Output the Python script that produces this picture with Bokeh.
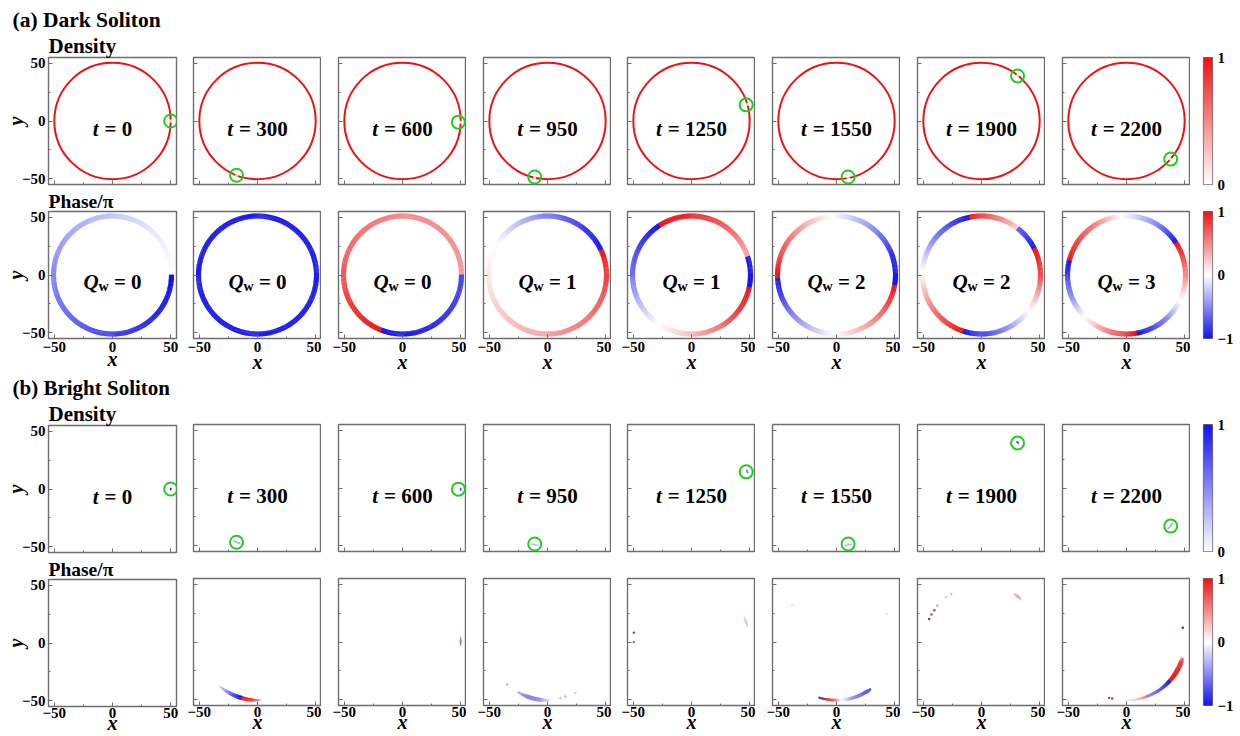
import numpy as np
from bokeh.plotting import figure
from bokeh.models import FixedTicker, Title, LinearColorMapper, Range1d
from bokeh.layouts import row, column
from bokeh.embed import file_html
from bokeh.resources import INLINE
from bokeh.core.properties import value

# ---------------- data ----------------
times = [0, 300, 600, 950, 1250, 1550, 1900, 2200]
winding_numbers = [0, 0, 0, 1, 1, 2, 2, 3]
soliton_x = [50, -18, 48, -11, 47, 10, 31, 38]
soliton_y = [0, -47, -1, -48.5, 14, -48.5, 39, -33]
ring_radius = 50

# bright soliton peak density and its angular half-extent (deg)
bright_peak_density = [0.95, 0.35, 0.8, 0.3, 0.6, 0.3, 0.8, 0.35]
bright_peak_halfwidth = [1.2, 4.0, 1.5, 4.0, 2.0, 4.0, 1.5, 4.0]

# dark soliton phase/pi along the ring: knots (angle in deg, phase); repeated angle = jump
dark_phase_angles = [
    [0, 45, 90, 180, 270, 330, 360],
    [0, 360],
    [0, 90, 180, 249, 249, 300, 360],
    [25, 50, 90, 150, 180, 225, 270, 315, 360, 385],
    [18, 45, 90, 123, 123, 180, 236, 270, 320, 348, 348, 378],
    [-10, 20, 50, 95, 135, 183, 183, 225, 268, 310, 350],
    [26.7, 52.5, 52.5, 101.6, 101.6, 140, 177, 210, 252, 252, 290, 323, 340, 360, 386.7],
    [33, 60, 95, 120, 166, 166, 200, 225, 250, 280, 280, 310, 334, 360, 393],
]
dark_phase_values = [
    [0.0, -0.1, -0.25, -0.5, -0.8, -0.95, -1.0],
    [-0.95, -0.95],
    [0.45, 0.5, 0.7, 1.0, -1.0, -0.9, -0.75],
    [-1.0, -0.85, -0.55, 0.0, 0.1, 0.25, 0.4, 0.6, 0.8, 1.0],
    [0.35, 0.6, 0.9, 1.0, -1.0, -0.6, 0.0, 0.3, 0.8, 1.0, -1.0, -0.95],
    [-1.0, -0.9, -0.5, 0.0, 0.5, 1.0, -1.0, -0.5, 0.0, 0.5, 1.0],
    [-1.0, -0.65, 0.2, 1.0, -1.0, -0.55, 0.0, 0.5, 1.0, -1.0, -0.55, 0.0, 0.35, 0.75, 1.0],
    [-1.0, -0.5, 0.0, 0.5, 1.0, -1.0, -0.5, 0.0, 0.5, 1.0, -1.0, -0.55, 0.0, 0.5, 1.0],
]

# bright soliton phase/pi: arcs (angle knots, phase, thickness) and isolated dots
bright_arc_angles = [
    [],
    [[229, 240, 250, 254, 254, 264, 273]],
    [[-4, 0, 5]],
    [[239, 250, 262, 273]],
    [[15, 20, 25]],
    [[252, 258, 258, 266, 275, 285, 300, 306]],
    [[47, 51.5, 56]],
    [[268, 280, 290, 292, 292, 305, 318, 318, 330, 340, 344]],
]
bright_arc_phases = [
    [],
    [[-0.2, -0.55, -0.9, -1.0, 0.95, 0.9, 0.4]],
    [[-0.45, -0.55, -0.45]],
    [[-0.35, -0.55, -0.5, -0.1]],
    [[0.25, 0.3, 0.25]],
    [[-1.0, -0.85, 1.0, 0.8, 0.0, -0.45, -0.7, -0.75]],
    [[0.3, 0.4, 0.3]],
    [[0.05, 0.25, 0.6, 0.8, -0.5, -0.7, -1.0, 1.0, 0.95, 0.8, 0.6]],
]
bright_arc_widths = [
    [],
    [[1.0, 3.0, 3.8, 3.8, 3.6, 2.8, 1.2]],
    [[0.8, 1.8, 0.8]],
    [[1.5, 3.5, 3.5, 1.2]],
    [[1.0, 2.0, 1.0]],
    [[1.5, 2.0, 2.0, 2.3, 2.5, 2.8, 3.2, 2.0]],
    [[1.5, 2.8, 1.5]],
    [[1.0, 1.8, 2.3, 2.4, 2.4, 2.8, 3.5, 3.5, 4.2, 4.0, 2.0]],
]
bright_dot_x = [[], [], [], [11.1, 15.4, 24, -34.6], [-49.5, -49.6], [-38, 43],
                [-45, -43, -40.5, -38, -30.5, -26], [-12.3, -15, 48.4]]
bright_dot_y = [[], [], [], [-48.6, -47.2, -44, -36.9], [8, 0], [31.8, 24],
                [20, 23.8, 27.6, 31.5, 38.7, 41.6], [-48.9, -48.6, 12.3]]
bright_dot_phase = [[], [], [], [0.3, 0.4, 0.3, -0.3], [-0.7, -0.6], [-0.15, -0.1],
                    [-0.8, 0.8, -0.7, -0.35, -0.2, -0.25], [0.9, -0.7, -0.9]]

# ---------------- style ----------------
FONT = "Liberation Serif"
RED = (236, 18, 18)
BLUE = (18, 18, 236)
WHITE = (255, 255, 255)
GRAY = "#6e6e6e"
NBSP = "\u00a0"


def blend(c0, c1, n):
    out = []
    for i in range(n):
        f = i / (n - 1)
        r, g, b = [int(round(a + (b_ - a) * f)) for a, b_ in zip(c0, c1)]
        out.append("#%02x%02x%02x" % (r, g, b))
    return out


red_palette = blend(WHITE, RED, 256)
blue_palette = blend(WHITE, BLUE, 256)
phase_palette = blend(BLUE, WHITE, 128) + blend(WHITE, RED, 128)
phase_mapper = LinearColorMapper(palette=phase_palette, low=-1, high=1)

# layout (pixels); page has no margin
BORDER_L = [48, 7, 17, 17, 16, 17, 17, 17]
BORDER_R = [10, 0, 0, 0, 0, 0, 0, 0]
FRAME_W = 128
FRAME_H = 127
# per row: (first column, other columns)
BORDER_T = [(57, 57), (24, 24), (51, 47), (24, 24)]
BORDER_B = [(3, 3), (35, 39), (3, 3), (31, 31)]
XLABEL_STANDOFF = [None, (-7, -4), None, (-9, -9)]
XTICK_STANDOFF = [0, 3, 0, 1]
CB_T = [57, 15, 43, 15]
CB_B = [12, 43, 12, 24]

EM = {NBSP: 0.25, "=": 0.570}
for d in "0123456789":
    EM[d] = 0.5


def wedge_data(angles, phases, widths, r, w, step=1.0):
    st, en, ph, rin, rout = [], [], [], [], []
    for i in range(len(angles) - 1):
        a0, a1 = angles[i], angles[i + 1]
        if a1 <= a0:
            continue
        p0, p1 = phases[i], phases[i + 1]
        n = max(1, int(np.ceil((a1 - a0) / step)))
        for k in range(n):
            fm = (k + 0.5) / n
            st.append(np.radians(a0 + (a1 - a0) * k / n))
            en.append(np.radians(a0 + (a1 - a0) * (k + 1) / n + 0.35))
            ph.append(p0 + (p1 - p0) * fm)
            ww = w if widths is None else widths[i] + (widths[i + 1] - widths[i]) * fm
            rin.append(r - ww / 2)
            rout.append(r + ww / 2)
    return dict(start=st, end=en, phase=ph, rin=rin, rout=rout)


def hide_labels(ax):
    ax.major_label_text_font_size = "0px"
    ax.major_label_text_color = None
    ax.major_label_standoff = 0


def style_axes(p, col, r):
    k = 0 if col == 0 else 1
    for ax in (p.xaxis[0], p.yaxis[0]):
        ax.ticker = FixedTicker(ticks=[-50, 0, 50], minor_ticks=[-25, 25])
        ax.major_tick_in = 4
        ax.major_tick_out = 0
        ax.minor_tick_in = 2
        ax.minor_tick_out = 0
        ax.major_tick_line_color = GRAY
        ax.minor_tick_line_color = GRAY
        ax.axis_line_color = None
        ax.major_label_text_font = FONT
        ax.major_label_text_font_style = "bold"
        ax.major_label_text_font_size = "15px"
        ax.major_label_text_color = "black"
        ax.major_label_standoff = 3
        ax.axis_label_text_font = FONT
        ax.axis_label_text_font_style = "bold italic"
        ax.axis_label_text_font_size = "20px"
        ax.axis_label_text_color = "black"
    xa, ya = p.xaxis[0], p.yaxis[0]
    if XLABEL_STANDOFF[r] is not None:
        xa.axis_label = "x"
        xa.axis_label_standoff = XLABEL_STANDOFF[r][k]
        xa.major_label_standoff = XTICK_STANDOFF[r]
    else:
        hide_labels(xa)
    if col == 0:
        ya.axis_label = "y"
        ya.axis_label_standoff = -8
    else:
        hide_labels(ya)


def make_panel(col, r):
    k = 0 if col == 0 else 1
    p = figure(frame_width=FRAME_W, frame_height=FRAME_H,
               x_range=Range1d(-55, 55), y_range=Range1d(-55, 55),
               min_border_left=BORDER_L[col], min_border_right=BORDER_R[col],
               min_border_top=BORDER_T[r][k], min_border_bottom=BORDER_B[r][k],
               toolbar_location=None, tools="", output_backend="svg", title=None)
    p.grid.visible = False
    p.outline_line_color = GRAY
    p.outline_line_width = 1.4
    p.background_fill_color = "white"
    p.border_fill_color = "white"
    style_axes(p, col, r)
    return p


def add_title(p, text, size, offset=0):
    p.add_layout(Title(text=text, align="left", offset=offset, standoff=0,
                       text_font=FONT, text_font_size=size, text_font_style="bold",
                       text_color="black"), "above")


def add_time_label(p, t):
    F = 21
    rest = NBSP + "=" + NBSP + str(t)
    wt = 0.30 * F
    wr = sum(EM[c] for c in rest) * F
    x0 = -(wt + wr) / 2
    common = dict(text_font=value(FONT), text_font_size="%dpx" % F, text_align="left",
                  text_baseline="alphabetic", text_color="black", y_offset=7.5)
    p.text(x=[0], y=[0], text=["t"], x_offset=x0, text_font_style="bold italic", **common)
    p.text(x=[0], y=[0], text=[rest], x_offset=x0 + wt, text_font_style="bold", **common)


def add_q_label(p, q):
    F = 21
    FS = 14
    rest = NBSP + "=" + NBSP + str(q)
    wq = 0.722 * F
    ww = 0.722 * FS
    wr = sum(EM[c] for c in rest) * F
    x0 = -(wq + ww + wr) / 2
    common = dict(text_font=value(FONT), text_align="left", text_baseline="alphabetic",
                  text_color="black")
    p.text(x=[0], y=[0], text=["Q"], x_offset=x0, y_offset=7, text_font_size="%dpx" % F,
           text_font_style="bold italic", **common)
    p.text(x=[0], y=[0], text=["w"], x_offset=x0 + wq, y_offset=11.5, text_font_size="%dpx" % FS,
           text_font_style="bold", **common)
    p.text(x=[0], y=[0], text=[rest], x_offset=x0 + wq + ww, y_offset=7, text_font_size="%dpx" % F,
           text_font_style="bold", **common)


def make_cbar(r, palette, low, high, ticks):
    p = figure(frame_width=9, frame_height=FRAME_H, x_range=Range1d(0, 1),
               y_range=Range1d(low, high),
               min_border_left=13, min_border_right=24, min_border_top=CB_T[r],
               min_border_bottom=CB_B[r], x_axis_location=None, y_axis_location="right",
               toolbar_location=None, tools="", output_backend="svg", title=None)
    p.grid.visible = False
    mapper = LinearColorMapper(palette=palette, low=low, high=high)
    grad = np.linspace(low, high, 256).reshape(-1, 1)
    p.image(image=[grad], x=0, y=low, dw=1, dh=high - low, color_mapper=mapper)
    p.outline_line_color = GRAY
    p.outline_line_width = 1.2
    ax = p.yaxis[0]
    ax.ticker = FixedTicker(ticks=ticks, minor_ticks=[])
    ax.major_tick_in = 0
    ax.major_tick_out = 0
    ax.axis_line_color = None
    ax.major_label_text_font = FONT
    ax.major_label_text_font_style = "bold"
    ax.major_label_text_font_size = "15px"
    ax.major_label_text_color = "black"
    ax.major_label_standoff = 5
    return p


grid = [[None] * 8 for _ in range(4)]

for i in range(8):
    # Row 0: dark soliton density
    p = make_panel(i, 0)
    p.circle(x=[0], y=[0], radius=ring_radius, fill_color=None, line_color="#%02x%02x%02x" % RED,
             line_width=2)
    ang = np.arctan2(soliton_y[i], soliton_x[i])
    p.arc(x=[0], y=[0], radius=ring_radius, start_angle=ang - 0.026, end_angle=ang + 0.026,
          line_color="white", line_width=3, line_alpha=0.8)
    p.scatter(x=[soliton_x[i]], y=[soliton_y[i]], marker="circle", size=13, fill_color=None,
              line_color="#22cc22", line_width=2)
    add_time_label(p, times[i])
    if i == 0:
        add_title(p, "Density", "21px")
        add_title(p, "(a) Dark Soliton", "21.5px", offset=-36)
    grid[0][i] = p

    # Row 1: dark soliton phase
    p = make_panel(i, 1)
    d = wedge_data(dark_phase_angles[i], dark_phase_values[i], None, 50.7, 4.4)
    p.annular_wedge(x=0, y=0, inner_radius="rin", outer_radius="rout", start_angle="start",
                    end_angle="end", source=d,
                    fill_color={"field": "phase", "transform": phase_mapper}, line_color=None)
    add_q_label(p, winding_numbers[i])
    if i == 0:
        add_title(p, "Phase/π", "19.5px")
    grid[1][i] = p

    # Row 2: bright soliton density
    p = make_panel(i, 2)
    hw = np.radians(bright_peak_halfwidth[i])
    p.annular_wedge(x=0, y=0, inner_radius=ring_radius - 0.7, outer_radius=ring_radius + 0.7,
                    start_angle=ang - hw, end_angle=ang + hw,
                    fill_color=blue_palette[int(bright_peak_density[i] * 255)], line_color=None)
    p.scatter(x=[soliton_x[i]], y=[soliton_y[i]], marker="circle", size=13, fill_color=None,
              line_color="#22cc22", line_width=2)
    add_time_label(p, times[i])
    if i == 0:
        add_title(p, "Density", "21px")
        add_title(p, "(b) Bright Soliton", "21px", offset=-36)
    grid[2][i] = p

    # Row 3: bright soliton phase
    p = make_panel(i, 3)
    for angs, phs, wds in zip(bright_arc_angles[i], bright_arc_phases[i], bright_arc_widths[i]):
        d = wedge_data(angs, phs, wds, ring_radius, None)
        p.annular_wedge(x=0, y=0, inner_radius="rin", outer_radius="rout", start_angle="start",
                        end_angle="end", source=d,
                        fill_color={"field": "phase", "transform": phase_mapper}, line_color=None)
    if bright_dot_x[i]:
        p.scatter(x="x", y="y", source=dict(x=bright_dot_x[i], y=bright_dot_y[i],
                                            phase=bright_dot_phase[i]),
                  marker="circle", size=2.5, line_color=None,
                  fill_color={"field": "phase", "transform": phase_mapper})
    if i == 0:
        add_title(p, "Phase/π", "19.5px")
    grid[3][i] = p

cbars = [make_cbar(0, red_palette, 0, 1, [0, 1]),
         make_cbar(1, phase_palette, -1, 1, [-1, 0, 1]),
         make_cbar(2, blue_palette, 0, 1, [0, 1]),
         make_cbar(3, phase_palette, -1, 1, [-1, 0, 1])]

cols = [column(*[grid[r][i] for r in range(4)], spacing=0) for i in range(8)]
cols.append(column(*cbars, spacing=0))
layout = row(*cols, spacing=0)
open("out.html", "w").write(file_html(layout, INLINE))
